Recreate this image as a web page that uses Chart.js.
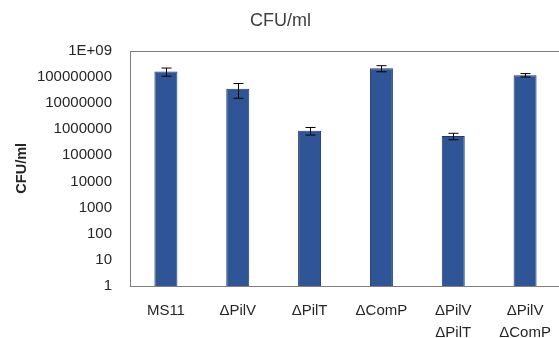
<!DOCTYPE html>
<html>
<head>
<meta charset="utf-8">
<script src="https://cdn.jsdelivr.net/npm/chart.js@4"></script>
<style>
  html, body { margin: 0; padding: 0; background: #fff; overflow: hidden; }
  canvas { display: block; }
</style>
</head>
<body>
<canvas id="cfuchart" width="563" height="338"></canvas>
<script>
// strains on the x axis (multi-line labels as arrays)
const strains = ['MS11', 'ΔPilV', 'ΔPilT', 'ΔComP', ['ΔPilV', 'ΔPilT'], ['ΔPilV', 'ΔComP']];
// CFU/ml means
const cfuValues = [160000000, 35000000, 870000, 210000000, 540000, 115000000];
// +/- error (linear, so looks lopsided on log axis)
const cfuErrors = [55000000, 20000000, 280000, 55000000, 150000, 17000000];
// y ticks, powers of ten
const tickValues = [1, 10, 100, 1000, 10000, 100000, 1000000, 10000000, 100000000, 1000000000];

const textColor = '#262626';
const fontFamily = '"Liberation Sans", Arial, sans-serif';

// draws the error bars using the y scale
const errorBarPlugin = {
  id: 'errorBars',
  afterDatasetsDraw(chart) {
    const ctx = chart.ctx;
    const yScale = chart.scales.y;
    const meta = chart.getDatasetMeta(0);
    ctx.save();
    ctx.strokeStyle = '#000';
    ctx.lineWidth = 1;
    meta.data.forEach(function (bar, i) {
      const x = Math.round(bar.x) + 0.5;
      const top = yScale.getPixelForValue(cfuValues[i] + cfuErrors[i]);
      const bottom = yScale.getPixelForValue(cfuValues[i] - cfuErrors[i]);
      ctx.beginPath();
      ctx.moveTo(x, top);
      ctx.lineTo(x, bottom);
      ctx.moveTo(x - 5, top);
      ctx.lineTo(x + 5, top);
      ctx.moveTo(x - 5, bottom);
      ctx.lineTo(x + 5, bottom);
      ctx.stroke();
    });
    ctx.restore();
  }
};

// plot area frame
const framePlugin = {
  id: 'frame',
  afterDraw(chart) {
    const a = chart.chartArea;
    const ctx = chart.ctx;
    ctx.save();
    ctx.strokeStyle = '#7f7f7f';
    ctx.lineWidth = 1;
    ctx.strokeRect(Math.round(a.left) + 0.5, Math.round(a.top) + 0.5,
      Math.round(a.right - a.left), Math.round(a.bottom - a.top));
    ctx.restore();
  }
};

const ctx = document.getElementById('cfuchart').getContext('2d');
const cfuChart = new Chart(ctx, {
  type: 'bar',
  data: {
    labels: strains,
    datasets: [{
      label: 'CFU/ml',
      data: cfuValues,
      backgroundColor: '#2f5597',
      borderColor: '#1f3864',
      borderWidth: 1,
      barPercentage: 0.32,
      categoryPercentage: 1
    }]
  },
  options: {
    responsive: false,
    animation: false,
    layout: { padding: { left: 0, right: 2, top: 0, bottom: 0 } },
    plugins: {
      legend: { display: false },
      tooltip: { enabled: false },
      title: {
        display: true,
        text: 'CFU/ml',
        color: '#404040',
        font: { family: fontFamily, size: 18, weight: 'normal' },
        padding: { top: 10, bottom: 19 }
      }
    },
    scales: {
      x: {
        grid: { display: false },
        border: { display: false },
        ticks: {
          color: textColor,
          font: { family: fontFamily, size: 15, lineHeight: 1.45 },
          padding: 6,
          maxRotation: 0,
          autoSkip: false
        },
        afterFit(scale) { scale.height = 52; }
      },
      y: {
        type: 'logarithmic',
        min: 1,
        max: 1000000000,
        grid: { display: false, drawTicks: false },
        border: { display: false },
        afterBuildTicks(scale) {
          scale.ticks = tickValues.map(v => ({ value: v }));
        },
        ticks: {
          color: textColor,
          font: { family: fontFamily, size: 15 },
          padding: 18,
          callback: function (value) {
            if (value >= 1000000000) return '1E+09';
            return String(value);
          }
        },
        title: {
          display: true,
          text: 'CFU/ml',
          color: textColor,
          font: { family: fontFamily, size: 14.5, weight: 'bold' },
          padding: { top: 13, bottom: 0 }
        },
        afterFit(scale) { scale.width = 130; }
      }
    }
  },
  plugins: [errorBarPlugin, framePlugin]
});
</script>
</body>
</html>
